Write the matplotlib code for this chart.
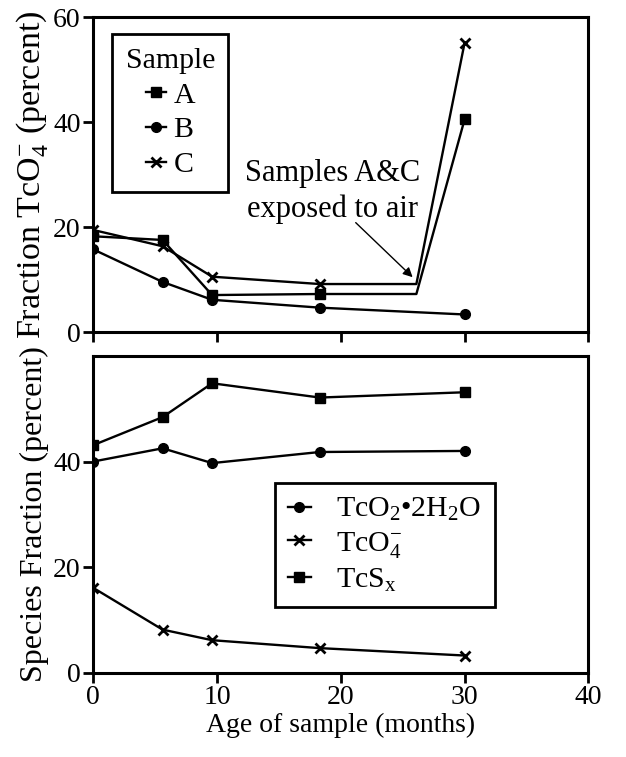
import matplotlib
matplotlib.use('Agg')
import matplotlib.pyplot as plt

plt.rcParams['font.family'] = ['Liberation Serif', 'DejaVu Serif']
plt.rcParams['mathtext.fontset'] = 'custom'
plt.rcParams['mathtext.rm'] = 'Liberation Serif'
plt.rcParams['mathtext.it'] = 'Liberation Serif'
plt.rcParams['mathtext.bf'] = 'Liberation Serif'
plt.rcParams['font.size'] = 20

# top panel: fraction TcO4- per sample (last vertex before 30 months is the
# point where samples A and C were exposed to air, drawn without a marker)
age_a = [0, 5.6, 9.6, 18.3, 26.1, 30]
frac_a = [18.3, 17.6, 7.1, 7.3, 7.3, 40.6]
age_b = [0, 5.6, 9.6, 18.3, 30]
frac_b = [15.8, 9.6, 6.2, 4.7, 3.4]
age_c = [0, 5.6, 9.6, 18.3, 26.1, 30]
frac_c = [19.5, 16.4, 10.6, 9.2, 9.2, 55.2]
measured_ac = [0, 1, 2, 3, 5]

# bottom panel: species fractions
age_species = [0, 5.6, 9.6, 18.3, 30]
tco2 = [40.0, 42.5, 39.7, 41.8, 42.0]
tco4 = [16.1, 8.2, 6.2, 4.7, 3.3]
tcsx = [43.1, 48.4, 54.8, 52.1, 53.1]

lw = 1.7
sq = dict(marker='s', markersize=7)
ci = dict(marker='o', markersize=7)
xx = dict(marker='x', markersize=7.5, markeredgewidth=2)

fig = plt.figure(figsize=(6.26, 7.57), dpi=100)
ax1 = fig.add_axes([0.149, 0.561, 0.791, 0.416])
ax2 = fig.add_axes([0.149, 0.111, 0.791, 0.419])

for ax in (ax1, ax2):
    for s in ax.spines.values():
        s.set_linewidth(2.2)
    ax.tick_params(direction='out', length=7, width=2, labelsize=20, pad=2,
                   top=False, right=False)
    ax.set_xlim(0, 40)
    ax.set_ylim(0, 60)
    ax.set_xticks([0, 10, 20, 30, 40])

ax1.plot(age_a, frac_a, color='black', lw=lw, markevery=measured_ac, label='A', **sq)
ax1.plot(age_b, frac_b, color='black', lw=lw, label='B', **ci)
ax1.plot(age_c, frac_c, color='black', lw=lw, markevery=measured_ac, label='C', **xx)
ax1.set_yticks([0, 20, 40, 60])
ax1.tick_params(labelbottom=False)
ax1.set_ylabel(r'Fraction TcO$_4^{-}$ (percent)', fontsize=24.5, labelpad=2)

leg1 = ax1.legend(title='Sample', loc='upper left', bbox_to_anchor=(0.038, 0.947),
                  frameon=True, fancybox=False, framealpha=1, edgecolor='black',
                  handlelength=0.7, handletextpad=0.23, labelspacing=0.27,
                  borderpad=0.45, borderaxespad=0, fontsize=21.5, title_fontsize=21.5,
                  alignment='center')
leg1.get_frame().set_linewidth(2)
for h in leg1.legend_handles:
    h.set_markevery([1])

ax1.text(19.3, 26.8, 'Samples A&C\nexposed to air', ha='center', va='center',
         fontsize=22, linespacing=1.3)
ax1.annotate('', xy=(25.8, 10.5), xytext=(21.2, 20.9),
             arrowprops=dict(arrowstyle='-|>', color='black', lw=1,
                             mutation_scale=14, shrinkA=0, shrinkB=0))

ax2.plot(age_species, tco2, color='black', lw=lw, label='TcO$_2$•2H$_2$O', **ci)
ax2.plot(age_species, tco4, color='black', lw=lw, label='TcO$_4^{-}$', **xx)
ax2.plot(age_species, tcsx, color='black', lw=lw, label='TcS$_\\mathrm{x}$', **sq)
ax2.set_yticks([0, 20, 40])
ax2.set_ylabel('Species Fraction (percent)', fontsize=23, labelpad=3)
ax2.set_xlabel('Age of sample (months)', fontsize=20, labelpad=2)

leg2 = ax2.legend(loc='upper left', bbox_to_anchor=(0.366, 0.6),
                  frameon=True, fancybox=False, framealpha=1, edgecolor='black',
                  handlelength=0.77, handletextpad=0.85, labelspacing=0.22,
                  borderpad=0.45, borderaxespad=0, fontsize=21.5)
leg2.get_frame().set_linewidth(2)

fig.savefig('out.png', dpi=100)
